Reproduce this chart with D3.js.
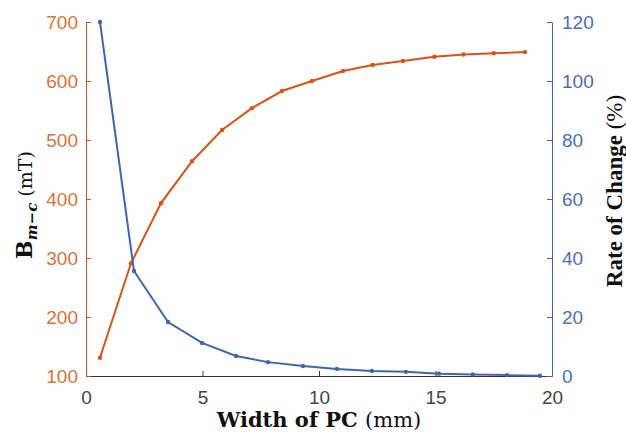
<!DOCTYPE html>
<html lang="en">
<head>
<meta charset="UTF-8">
<title>Width of PC</title>
<script src="https://d3js.org/d3.v7.min.js"></script>
<style>
  body { margin: 0; background: #fff; }
  svg { display: block; }
  .tick text { font-family: "Liberation Sans", Arial, sans-serif; font-size: 19px; }
  .lbl { font-family: "DejaVu Serif", "Liberation Serif", serif; font-size: 19px; fill: #111; }
  .rlbl { font-family: "Liberation Serif", serif; font-size: 23px; fill: #111; }
</style>
</head>
<body>
<svg id="canvas" width="626" height="434"></svg>
<script>
// B_m-c curve (left axis)
let widthB = [0.6, 1.93, 3.22, 4.55, 5.84, 7.12, 8.41, 9.7, 11.03, 12.3, 13.6, 14.95, 16.2, 17.5, 18.84]
let valB = [131, 291, 393, 464, 517, 554, 583, 600, 617, 627, 634, 641, 645, 647, 649]

// rate of change curve (right axis)
let widthR = [0.6, 2.06, 3.52, 4.98, 6.44, 7.81, 9.31, 10.77, 12.27, 13.73, 15.15, 16.6, 18.07, 19.48]
let valR = [120, 35.6, 18.3, 11.2, 6.8, 4.7, 3.4, 2.4, 1.7, 1.4, 0.8, 0.5, 0.3, 0.1]

let xTicks = [0, 5, 10, 15, 20]
let leftTicks = [100, 200, 300, 400, 500, 600, 700]
let rightTicks = [0, 20, 40, 60, 80, 100, 120]

let orange = '#d95319'
let blue = '#4066b0'

let svg = d3.select('#canvas')

let x = d3.scaleLinear().domain([0, 20]).range([86, 552])
let yL = d3.scaleLinear().domain([100, 700]).range([376, 22])
let yR = d3.scaleLinear().domain([0, 120]).range([376, 22])

// axes
let gx = svg.append('g')
  .attr('transform', 'translate(0,376)')
  .call(d3.axisBottom(x).tickValues(xTicks).tickSize(-5).tickSizeOuter(0).tickPadding(15))
gx.selectAll('path,line').attr('stroke', '#333')
gx.selectAll('text').attr('fill', '#444')

let gl = svg.append('g')
  .attr('transform', 'translate(86,0)')
  .call(d3.axisLeft(yL).tickValues(leftTicks).tickSize(-5).tickSizeOuter(0).tickPadding(8))
gl.selectAll('path,line').attr('stroke', orange)
gl.selectAll('text').attr('fill', '#d8733a')

let gr = svg.append('g')
  .attr('transform', 'translate(552,0)')
  .call(d3.axisRight(yR).tickValues(rightTicks).tickSize(-5).tickSizeOuter(0).tickPadding(10))
gr.selectAll('path,line').attr('stroke', blue)
gr.selectAll('text').attr('fill', '#4a6fb8')

// lines
let drawSeries = (xs, ys, yScale, color) => {
  let pts = xs.map((d, i) => [d, ys[i]])
  let line = d3.line().x(d => x(d[0])).y(d => yScale(d[1]))
  svg.append('path')
    .datum(pts)
    .attr('d', line)
    .attr('fill', 'none')
    .attr('stroke', color)
    .attr('stroke-width', 2)
  svg.append('g').selectAll('circle')
    .data(pts)
    .enter()
    .append('circle')
    .attr('cx', d => x(d[0]))
    .attr('cy', d => yScale(d[1]))
    .attr('r', 2.2)
    .attr('fill', color)
}
drawSeries(widthB, valB, yL, orange)
drawSeries(widthR, valR, yR, blue)

// axis titles
let xl = svg.append('text').attr('class', 'lbl')
  .attr('x', 319).attr('y', 427).attr('text-anchor', 'middle').style('font-size', '21px')
xl.append('tspan').attr('font-weight', 'bold').text('Width of PC ')
xl.append('tspan').text('(mm)')

let ll = svg.append('text').attr('class', 'lbl')
  .attr('transform', 'translate(32,205) rotate(-90)').attr('text-anchor', 'middle')
ll.append('tspan').attr('font-weight', 'bold').attr('font-size', 22).text('B')
ll.append('tspan').attr('font-weight', 'bold').attr('font-style', 'italic')
  .attr('font-size', 15).attr('dy', 5).text('m\u2212c')
ll.append('tspan').attr('dy', -5).text(' (mT)')

let rl = svg.append('text').attr('class', 'rlbl')
  .attr('transform', 'translate(622,191) rotate(-90)').attr('text-anchor', 'middle')
rl.append('tspan').attr('font-weight', 'bold').text('Rate of Change ')
rl.append('tspan').text('(%)')
</script>
</body>
</html>
